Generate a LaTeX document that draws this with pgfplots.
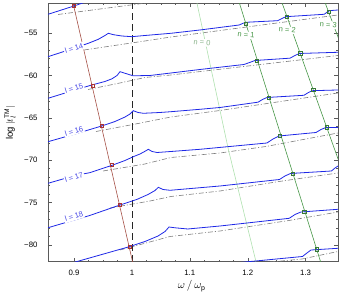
\documentclass[border=0pt]{standalone}
\usepackage{fontspec}
\setmainfont{Liberation Sans}
\usepackage{pgfplots}
\pgfplotsset{compat=1.18}
\definecolor{blueC}{RGB}{30,40,230}
\definecolor{blueL}{RGB}{70,70,230}
\definecolor{grayC}{RGB}{125,125,125}
\definecolor{redC}{RGB}{165,80,70}
\definecolor{redM}{RGB}{170,50,50}
\definecolor{greenC}{RGB}{70,150,70}
\definecolor{greenL}{RGB}{175,225,175}
\definecolor{frameC}{RGB}{90,90,90}
\begin{document}
\begin{tikzpicture}
\useasboundingbox (-48pt,-38.3pt) rectangle (294pt,261.7pt);
\begin{axis}[
  at={(0,0)}, anchor=south west,
  scale only axis, width=290pt, height=258.4pt,
  xmin=0.855, xmax=1.356, ymin=-81.97, ymax=-51.5,
  axis line style={frameC, line width=0.5pt},
  xtick={0.9,1,1.1,1.2,1.3}, xticklabels={0.9,1,1.1,1.2,1.3},
  ytick={-80,-75,-70,-65,-60,-55},
  yticklabels={−80,−75,−70,−65,−60,−55},
  minor x tick num=3, minor y tick num=4,
  tick align=inside, major tick length=4pt, minor tick length=2pt,
  every tick/.style={frameC, line width=0.4pt},
  tick label style={font=\fontsize{7.8}{9}\selectfont},
  yticklabel style={xshift=-7pt},
  xticklabel style={yshift=-5pt},
  xlabel={$\omega\,/\,\omega_{\mbox{\scriptsize p}}$},
  ylabel={log $|t_l^{\mathrm{TM}}|$},
  xlabel style={font=\fontsize{11}{12}\selectfont, at={(axis description cs:0.4955,-0.094)}, anchor=center},
  ylabel style={font=\fontsize{9.5}{11}\selectfont, at={(axis description cs:-0.131,0.537)}, anchor=center},
]
% gray asymptotes
\pgfplotsset{gray dd/.style={grayC, line width=0.6pt, dash pattern=on 5pt off 2pt on 1pt off 2pt}}
\addplot[gray dd] coordinates {(0.8724,-52.818) (1.0313,-51.403)};
\addplot[gray dd] coordinates {(0.9173,-57.005) (1.0226,-55.943) (1.0675,-55.472) (1.3560,-52.877)};
\addplot[gray dd] coordinates {(0.9242,-61.663) (0.9794,-60.896) (1.0226,-60.248) (1.0675,-59.953) (1.3560,-57.653)};
\addplot[gray dd] coordinates {(0.9380,-66.616) (1.0019,-65.790) (1.0675,-64.906) (1.1522,-64.139) (1.3560,-62.075)};
\addplot[gray dd] coordinates {(0.9501,-71.274) (1.0226,-70.448) (1.0675,-69.682) (1.1522,-69.151) (1.2316,-68.384) (1.3560,-66.792)};
\addplot[gray dd] coordinates {(0.9622,-75.637) (1.0313,-74.811) (1.0675,-74.281) (1.1522,-73.632) (1.2541,-72.512) (1.3560,-71.509)};
\addplot[gray dd] coordinates {(0.9794,-80.590) (1.0658,-78.998) (1.1522,-78.349) (1.2713,-77.111) (1.3560,-76.108)};
\addplot[gray dd] coordinates {(1.1867,-82.358) (1.2938,-81.651) (1.3560,-80.767)};
% vertical dashed line at omega_p
\addplot[black!85, line width=0.8pt, dash pattern=on 7pt off 4pt] coordinates {(1,-81.97) (1,-51.5)};
% resonance lines
\addplot[greenL, line width=0.6pt] coordinates {(1.1124,-51.5) (1.1668,-68.797) (1.2143,-81.97)};
\addplot[greenC, line width=0.6pt] coordinates {(1.1858,-51.5) (1.3259,-81.97)};
\addplot[greenC, line width=0.6pt] coordinates {(1.2596,-51.5) (1.3700,-72.5)};
\addplot[greenC, line width=0.6pt] coordinates {(1.3341,-51.5) (1.3700,-58.0)};
\addplot[redC, line width=0.6pt] coordinates {(0.8980,-51.4) (1.0015,-82.1)};
% blue curves, l = 13 ... 20
\pgfplotsset{blue c/.style={blueC, line width=0.8pt}}
\addplot[blue c] coordinates {(0.8551,-52.795) (0.9000,-51.816) (0.9173,-51.403)};
\addplot[blue c] coordinates {(0.8551,-57.795) (0.8931,-56.946) (0.9247,-56.215) (0.9420,-55.743) (0.9535,-55.295) (0.9592,-55.035) (0.9679,-55.200) (0.9824,-55.354) (0.9997,-55.436) (1.0226,-55.295) (1.0675,-55.035) (1.1176,-54.646) (1.1855,-54.057) (1.1914,-53.868) (1.1971,-53.738) (1.2518,-53.550) (1.2592,-53.290) (1.2661,-53.078) (1.3323,-52.795) (1.3370,-52.547) (1.3409,-52.370) (1.3560,-52.288)};
\addplot[blue c] coordinates {(0.8551,-62.700) (0.8931,-61.899) (0.9306,-61.132) (0.9535,-60.719) (0.9656,-60.401) (0.9743,-60.012) (0.9794,-59.564) (0.9881,-59.752) (1.0019,-60.047) (1.0313,-60.012) (1.0675,-59.717) (1.1176,-59.304) (1.1936,-58.715) (1.2048,-58.443) (1.2126,-58.243) (1.2731,-57.972) (1.2817,-57.653) (1.2895,-57.417) (1.3560,-57.276)};
\addplot[blue c] coordinates {(0.8551,-67.818) (0.9017,-66.910) (0.9478,-65.967) (0.9708,-65.436) (0.9881,-64.906) (0.9967,-64.552) (1.0024,-64.163) (1.0105,-64.375) (1.0197,-64.469) (1.0485,-64.375) (1.0675,-64.281) (1.1176,-63.998) (1.1522,-63.785) (1.2178,-63.160) (1.2256,-62.842) (1.2333,-62.606) (1.2972,-62.347) (1.3041,-62.052) (1.3111,-61.804) (1.3560,-61.722)};
\addplot[blue c] coordinates {(0.8551,-72.724) (0.9017,-71.804) (0.9271,-71.474) (0.9648,-70.625) (0.9881,-70.035) (1.0024,-69.587) (1.0140,-69.269) (1.0226,-68.950) (1.0283,-68.715) (1.0347,-68.974) (1.0434,-69.092) (1.0675,-68.974) (1.1176,-68.715) (1.2333,-67.972) (1.2437,-67.500) (1.2541,-67.146) (1.3180,-66.734) (1.3266,-66.380) (1.3352,-66.144) (1.3560,-66.144)};
\addplot[blue c] coordinates {(0.8551,-77.960) (0.9271,-76.521) (0.9794,-75.283) (1.0083,-74.634) (1.0278,-74.045) (1.0399,-73.573) (1.0456,-73.196) (1.0537,-73.455) (1.0658,-73.550) (1.1522,-73.042) (1.2549,-72.276) (1.2644,-71.863) (1.2739,-71.568) (1.3447,-71.274) (1.3508,-70.920) (1.3560,-70.684)};
\addplot[blue c] coordinates {(0.8931,-82.182) (0.9449,-81.180) (0.9955,-80.200) (1.0226,-79.587) (1.0451,-78.939) (1.0572,-78.408) (1.0641,-77.877) (1.0744,-77.972) (1.0964,-78.113) (1.1522,-77.759) (1.2718,-76.851) (1.2817,-76.403) (1.2921,-76.108) (1.3560,-75.790)};
\addplot[blue c] coordinates {(1.1867,-82.064) (1.2946,-81.356) (1.3024,-80.943) (1.3093,-80.590) (1.3560,-80.389)};
% marks
\addplot[redM, only marks, mark=square, mark size=1.5pt, mark options={line width=0.5pt}] coordinates {(0.9000,-51.816) (0.9323,-61.215) (0.9478,-65.967) (0.9651,-70.566) (0.9794,-75.283) (0.9955,-80.200)};
\addplot[greenC!80!black, only marks, mark=square, mark size=1.6pt, mark options={line width=0.5pt}] coordinates {(1.1971,-53.939) (1.2161,-58.302) (1.2363,-62.630) (1.2558,-67.111) (1.2777,-71.627) (1.2978,-76.073) (1.3192,-80.507) (1.2679,-53.078) (1.2908,-57.394) (1.3133,-61.722) (1.3364,-66.120) (1.3399,-52.488)};
% labels
\tikzset{llab/.style={fill=white, inner sep=1pt, text=blueL, rotate=17, font=\fontsize{7.5}{8}\selectfont}}
\node[llab] at (axis cs:0.9,-56.83) {l = 14};
\node[llab] at (axis cs:0.9,-61.545) {l = 15};
\node[llab] at (axis cs:0.9,-66.557) {l = 16};
\node[llab] at (axis cs:0.9,-71.981) {l = 17};
\node[llab] at (axis cs:0.9,-76.663) {l = 18};
\tikzset{nlab/.style={fill=white, inner sep=1pt, rotate=-5, font=\fontsize{7.5}{8}\selectfont}}
\node[nlab, text=greenL!80!black] at (axis cs:1.1211,-56.12) {n = 0};
\node[nlab, text=greenC] at (axis cs:1.1971,-55.236) {n = 1};
\node[nlab, text=greenC] at (axis cs:1.2684,-54.646) {n = 2};
\node[nlab, text=greenC] at (axis cs:1.3392,-54.02) {n = 3};
\end{axis}
\end{tikzpicture}
\end{document}
